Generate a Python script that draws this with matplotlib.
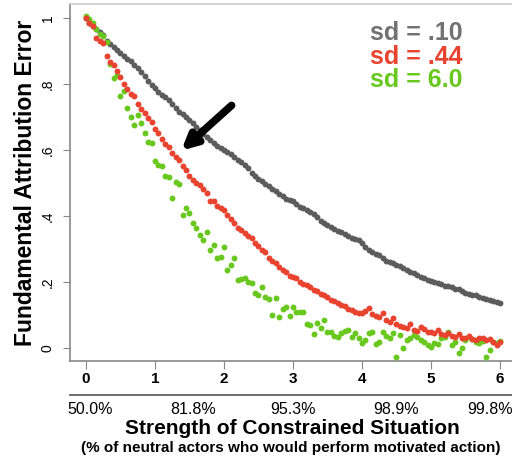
import numpy as np
import matplotlib
matplotlib.use("Agg")
import matplotlib.pyplot as plt

plt.rcParams['font.family'] = ['Liberation Sans', 'DejaVu Sans']

# situation strength, 0 to 6 in steps of .05
x = np.arange(121) * 0.05

# sd = .10
gray_y = [1.000, 0.986, 0.975, 0.967, 0.957, 0.948, 0.930, 0.921, 0.912, 0.902,
          0.893, 0.886, 0.877, 0.870, 0.857, 0.847, 0.837, 0.825, 0.808, 0.796,
          0.787, 0.776, 0.766, 0.760, 0.750, 0.738, 0.727, 0.716, 0.708, 0.700,
          0.690, 0.682, 0.670, 0.660, 0.648, 0.638, 0.630, 0.620, 0.612, 0.605,
          0.600, 0.594, 0.588, 0.578, 0.571, 0.565, 0.556, 0.544, 0.530, 0.522,
          0.512, 0.505, 0.497, 0.490, 0.482, 0.475, 0.466, 0.460, 0.452, 0.450,
          0.446, 0.436, 0.428, 0.425, 0.418, 0.412, 0.406, 0.398, 0.385, 0.378,
          0.372, 0.366, 0.360, 0.355, 0.352, 0.347, 0.340, 0.334, 0.329, 0.326,
          0.318, 0.306, 0.298, 0.290, 0.284, 0.281, 0.272, 0.265, 0.262, 0.258,
          0.252, 0.250, 0.242, 0.236, 0.230, 0.226, 0.221, 0.216, 0.213, 0.207,
          0.203, 0.200, 0.197, 0.193, 0.189, 0.187, 0.184, 0.180, 0.179, 0.174,
          0.168, 0.165, 0.162, 0.160, 0.156, 0.152, 0.149, 0.146, 0.142, 0.141,
          0.136]

# sd = .44
red_y = [1.000, 0.985, 0.975, 0.940, 0.930, 0.925, 0.885, 0.866, 0.858, 0.838,
         0.822, 0.800, 0.785, 0.770, 0.762, 0.740, 0.724, 0.712, 0.697, 0.684,
         0.665, 0.652, 0.632, 0.618, 0.610, 0.590, 0.578, 0.570, 0.552, 0.540,
         0.522, 0.508, 0.500, 0.493, 0.481, 0.470, 0.446, 0.445, 0.430, 0.424,
         0.418, 0.403, 0.392, 0.380, 0.365, 0.357, 0.348, 0.340, 0.333, 0.318,
         0.310, 0.297, 0.290, 0.272, 0.265, 0.258, 0.246, 0.236, 0.230, 0.218,
         0.216, 0.212, 0.200, 0.195, 0.190, 0.185, 0.176, 0.172, 0.165, 0.160,
         0.155, 0.146, 0.142, 0.136, 0.131, 0.128, 0.118, 0.114, 0.110, 0.107,
         0.106, 0.112, 0.120, 0.102, 0.098, 0.094, 0.105, 0.086, 0.080, 0.091,
         0.072, 0.068, 0.064, 0.060, 0.072, 0.055, 0.052, 0.063, 0.058, 0.050,
         0.049, 0.045, 0.054, 0.042, 0.040, 0.046, 0.038, 0.035, 0.042, 0.032,
         0.030, 0.036, 0.028, 0.025, 0.031, 0.030, 0.024, 0.027, 0.018, 0.009,
         0.018]

# sd = 6.0
green_y = [1.005, 0.998, 0.985, 0.965, 0.950, 0.946, 0.928, 0.860, 0.818, 0.828,
           0.762, 0.780, 0.727, 0.700, 0.676, 0.706, 0.682, 0.650, 0.624, 0.621,
           0.568, 0.556, 0.553, 0.522, 0.518, 0.456, 0.502, 0.497, 0.404, 0.424,
           0.410, 0.380, 0.364, 0.342, 0.328, 0.352, 0.298, 0.312, 0.273, 0.275,
           0.305, 0.236, 0.252, 0.273, 0.206, 0.210, 0.212, 0.199, 0.197, 0.166,
           0.160, 0.185, 0.156, 0.149, 0.100, 0.152, 0.094, 0.118, 0.124, 0.096,
           0.124, 0.110, 0.109, 0.108, 0.072, 0.070, 0.042, 0.076, 0.062, 0.085,
           0.048, 0.050, 0.036, 0.033, 0.045, 0.052, 0.055, 0.033, 0.046, 0.030,
           0.015, 0.024, 0.046, 0.048, 0.012, 0.018, 0.048, 0.038, 0.030, 0.045,
           -0.028, 0.040, 0.000, 0.024, 0.030, 0.040, 0.033, 0.024, 0.018, 0.010,
           0.003, 0.015, 0.013, 0.030, 0.033, 0.050, 0.010, 0.018, -0.015, 0.000,
           0.024, 0.033, 0.028, 0.020, 0.015, 0.022, -0.027, -0.006, 0.020, 0.015,
           0.022]

legend_labels = ["sd = .10", "sd = .44", "sd = 6.0"]
pct_pos = [0.06, 1.55, 3.0, 4.5, 5.86]
pct_labels = ["50.0%", "81.8%", "95.3%", "98.9%", "99.8%"]

c_gray = "#5c5c5c"
c_red = "#e8432f"
c_green = "#68c81e"

fig = plt.figure(figsize=(5.12, 4.61), dpi=100)
ax = fig.add_axes([0.1367, 0.2169, 0.8633, 0.7744])

ax.scatter(x, gray_y, s=18, color=c_gray, linewidths=0, zorder=3)
ax.scatter(x, green_y, s=18, color=c_green, linewidths=0, zorder=3)
ax.scatter(x, red_y, s=18, color=c_red, linewidths=0, zorder=3)

ax.set_xlim(-0.232, 6.174)
ax.set_ylim(-0.039, 1.042)

ax.set_yticks([0, 0.2, 0.4, 0.6, 0.8, 1])
ax.set_yticklabels(["0", ".2", ".4", ".6", ".8", "1"], rotation=90, va="center")
ax.set_xticks(range(7))
ax.set_xticklabels([str(i) for i in range(7)], fontweight="bold")
ax.tick_params(axis="y", length=5, color="#888888", labelsize=10, pad=6)
ax.tick_params(axis="x", length=6, color="#888888", labelsize=11, pad=2)

for s in ["left", "bottom"]:
    ax.spines[s].set_color("#888888")
    ax.spines[s].set_linewidth(1.2)
ax.spines["top"].set_color("#cccccc")
ax.spines["top"].set_linewidth(1.2)
ax.spines["right"].set_visible(False)

# second axis line with percentages
sec = ax.secondary_xaxis(-0.095)
sec.set_xticks(pct_pos)
sec.set_xticklabels(pct_labels)
sec.tick_params(length=0, labelsize=11.5, pad=5)
sec.spines["bottom"].set_color("#555555")
sec.spines["bottom"].set_linewidth(1.2)

ax.set_ylabel("Fundamental Attribution Error", fontsize=16.5, fontweight="bold",
              labelpad=3)
fig.text(0.571, 1 - 428 / 461, "Strength of Constrained Situation",
         fontsize=15, fontweight="bold", ha="center", va="center")
fig.text(0.568, 1 - 448 / 461,
         "(% of neutral actors who would perform motivated action)",
         fontsize=11, fontweight="bold", ha="center", va="center")

for lab, col, yy in zip(legend_labels, ["#727272", c_red, c_green],
                        [33, 57, 80]):
    fig.text(370 / 512, 1 - yy / 461, lab, color=col, fontsize=18,
             fontweight="bold", ha="left", va="center")

ax.annotate("", xy=(1.38, 0.598), xytext=(2.11, 0.735),
            arrowprops=dict(arrowstyle="-|>", lw=5.5, color="black",
                            mutation_scale=22, shrinkA=0, shrinkB=0))

fig.savefig("out.png", dpi=100)
